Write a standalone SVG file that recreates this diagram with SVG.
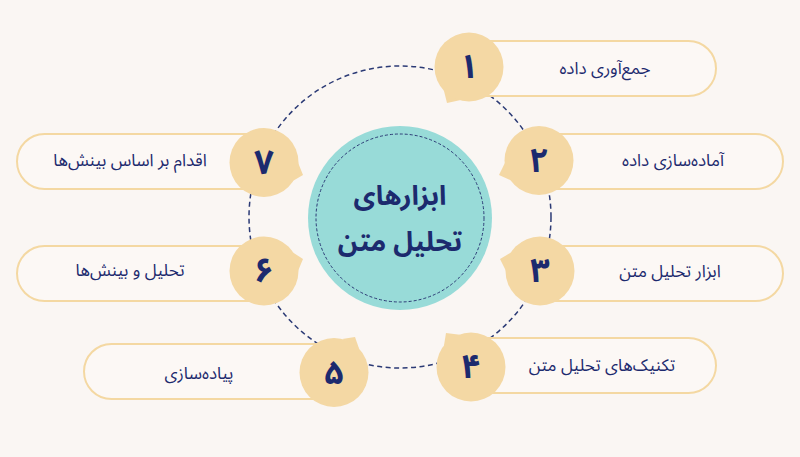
<svg xmlns="http://www.w3.org/2000/svg" width="800" height="457" viewBox="0 0 800 457">
<style>
.pill{fill:#FCF8F5;stroke:#F4D8A2;stroke-width:2}
.bub{fill:#F4D8A4}
.num{font-family:"Noto Sans Arabic","DejaVu Sans",sans-serif;font-weight:bold;font-size:34px;fill:#1C2A6E;text-anchor:middle;dominant-baseline:central}
.lbl{font-family:"Noto Sans Arabic","DejaVu Sans",sans-serif;font-size:17px;fill:#1C2A6E;text-anchor:middle;dominant-baseline:central}
.ttl{font-family:"Noto Sans Arabic","DejaVu Sans",sans-serif;font-weight:bold;font-size:27px;fill:#1C2A6E;text-anchor:middle;dominant-baseline:central}
.ring{fill:none;stroke:#2B3A75;stroke-width:1.5;stroke-dasharray:5 3.5}
</style>
<rect width="800" height="457" fill="#FAF6F3"/>
<g id="connectors">
<circle class="ring" cx="400" cy="217" r="151"/>
</g>
<g id="center">
<circle cx="400" cy="218" r="92" fill="#98DBD8"/>
<circle cx="400" cy="218" r="84" fill="none" stroke="#2B3A75" stroke-width="1" stroke-dasharray="3 2"/>
<text class="ttl" x="400" y="196" direction="rtl">ابزارهای</text>
<text class="ttl" x="400" y="242" direction="rtl">تحلیل متن</text>
</g>
<g id="node1">
<rect class="pill" x="440" y="41" width="276" height="55" rx="27.5"/>
<path class="bub" d="M460.8,100 L447,103 L443.7,89.8 Z"/>
<circle class="bub" cx="469" cy="67" r="34.5"/>
<text class="num" x="469" y="67">۱</text>
<text class="lbl" x="605" y="69" direction="rtl">جمع&#x200C;آوری داده</text>
</g>
<g id="node2">
<rect class="pill" x="510" y="134" width="273" height="55" rx="27.5"/>
<path class="bub" d="M512.2,180.9 L499,175 L505.1,162.4 Z"/>
<circle class="bub" cx="539" cy="160.5" r="34.5"/>
<text class="num" x="539" y="160.5">۲</text>
<text class="lbl" x="673" y="161" direction="rtl">آماده&#x200C;سازی داده</text>
</g>
<g id="node3">
<rect class="pill" x="510" y="246" width="273" height="55" rx="27.5"/>
<path class="bub" d="M506,271 L500,259 L511.8,252 Z"/>
<circle class="bub" cx="540" cy="271" r="34.5"/>
<text class="num" x="540" y="271">۳</text>
<text class="lbl" x="670" y="272" direction="rtl">ابزار تحلیل متن</text>
</g>
<g id="node4">
<rect class="pill" x="440" y="338" width="276" height="55" rx="27.5"/>
<path class="bub" d="M443.8,346.5 L446,333 L459.9,334.8 Z"/>
<circle class="bub" cx="471" cy="367" r="34.5"/>
<text class="num" x="471" y="367">۴</text>
<text class="lbl" x="602" y="366" direction="rtl">تکنیک&#x200C;های تحلیل متن</text>
</g>
<g id="node5">
<rect class="pill" x="84" y="344" width="280" height="55" rx="27.5"/>
<path class="bub" d="M342.2,339 L355,337 L359.3,349.3 Z"/>
<circle class="bub" cx="334" cy="372.5" r="34.5"/>
<text class="num" x="334" y="372.5">۵</text>
<text class="lbl" x="199" y="374" direction="rtl">پیاده&#x200C;سازی</text>
</g>
<g id="node6">
<rect class="pill" x="17" y="246" width="277" height="55" rx="27.5"/>
<path class="bub" d="M292.2,252 L303,259 L298,271 Z"/>
<circle class="bub" cx="264" cy="271" r="34.5"/>
<text class="num" x="264" y="271">۶</text>
<text class="lbl" x="130" y="271" direction="rtl">تحلیل و بینش&#x200C;ها</text>
</g>
<g id="node7">
<rect class="pill" x="17" y="134" width="277" height="55" rx="27.5"/>
<path class="bub" d="M298,162.6 L303,175 L291.9,181.5 Z"/>
<circle class="bub" cx="264" cy="162.5" r="34.5"/>
<text class="num" x="264" y="162.5">۷</text>
<text class="lbl" x="130" y="161" direction="rtl">اقدام بر اساس بینش&#x200C;ها</text>
</g>
</svg>
